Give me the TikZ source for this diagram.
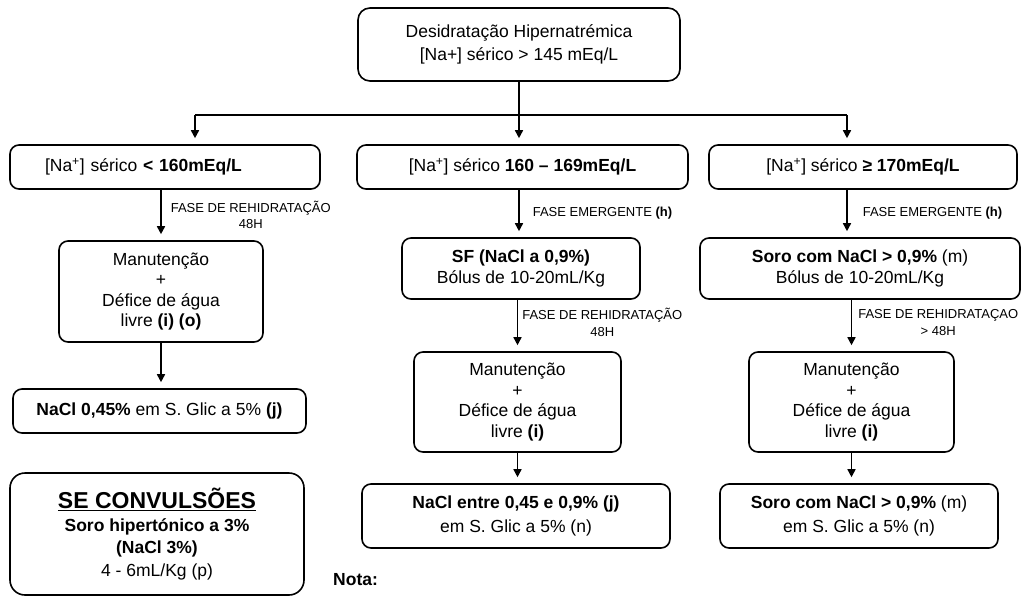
\documentclass[tikz,border=0pt]{standalone}
\usepackage{fontspec}
\setmainfont{Liberation Sans}
\usetikzlibrary{arrows.meta}

\begin{document}
\begin{tikzpicture}[x=1pt, y=-1pt, inner sep=0pt,
        box/.style={draw, line width=1.6pt, rounded corners=9pt, align=center, font=\fontsize{17.5}{20.5}\selectfont},
        arr/.style={line width=1.6pt, -{Triangle[length=8pt, width=8pt]}, shorten >=6pt},
        phase/.style={right, align=center, font=\fontsize{13}{16.5}\selectfont}]
        \useasboundingbox (0, 0) rectangle (1022, 597);
        \node[box, rounded corners=12pt, minimum width=322, minimum height=73] (hyper) at (519, 44.5) {Desidratação Hipernatrémica\\[2pt]{[Na+]} sérico > 145 mEq/L}; % diagnosis
        \node[box, minimum width=310, minimum height=44, text width=240, align=left] (lo1) at (165, 167) {[Na\textsuperscript{+}] sérico \textbf{< 160mEq/L}}; % low sodium
        \node[box, minimum width=331, minimum height=44] (mi1) at (522.5, 167) {[Na\textsuperscript{+}] sérico \textbf{160 – 169mEq/L}}; % medium sodium
        \node[box, minimum width=308, minimum height=44] (ri1) at (863, 167) {[Na\textsuperscript{+}] sérico \textbf{≥ 170mEq/L}}; % high sodium
        \node[box, minimum width=204, minimum height=101] (lo2) at (161, 291.5) {Manutenção\\+\\Défice de água\\livre \textbf{(i) (o)}}; % low maintenance
        \node[box, minimum width=238, minimum height=61] (mi2) at (521, 268.5) {\textbf{SF (NaCl a 0,9\%)}\\Bólus de 10-20mL/Kg}; % medium bolus
        \node[box, minimum width=320, minimum height=61] (ri2) at (860, 268.5) {\textbf{Soro com NaCl > 0,9\%} (m)\\Bólus de 10-20mL/Kg}; % high bolus
        \node[box, minimum width=293, minimum height=44] (lo3) at (159.5, 411) {\textbf{NaCl 0,45\%} em S. Glic a 5\% \textbf{(j)}}; % low fluid
        \node[box, minimum width=207, minimum height=100] (mi3) at (517.5, 402) {Manutenção\\+\\Défice de água\\livre \textbf{(i)}}; % medium maintenance
        \node[box, minimum width=205, minimum height=100] (ri3) at (851.5, 402) {Manutenção\\+\\Défice de água\\livre \textbf{(i)}}; % high maintenance
        \node[box, minimum width=308, minimum height=64] (mi4) at (516, 516) {\textbf{NaCl entre 0,45 e 0,9\% (j)}\\[3pt]em S. Glic a 5\% (n)}; % medium fluid
        \node[box, minimum width=278, minimum height=64] (ri4) at (859, 516) {\textbf{Soro com NaCl > 0,9\%} (m)\\[3pt]em S. Glic a 5\% (n)}; % high fluid
        \node[box, rounded corners=15pt, minimum width=294, minimum height=122] (conv) at (157, 534) {{\fontsize{23}{26}\selectfont\textbf{\underline{SE CONVULSÕES}}}\\[2pt]\textbf{Soro hipertónico a 3\%}\\[2pt]\textbf{(NaCl 3\%)}\\[2pt]4 - 6mL/Kg (p)}; % seizures
        \node[anchor=west, font=\fontsize{17.5}{21}\selectfont\bfseries] (nota) at (333, 580) {Nota:}; % note
        \coordinate (spL) at (195, 115); % left split
        \coordinate (spR) at (847, 115); % right split
        \draw[line width=1.6pt] (spL) -- (spR); % branch line
        \draw[arr] (hyper.south) -- (hyper.south |- mi1.north);
        \draw[arr] (spL) -- (spL |- lo1.north);
        \draw[arr] (spR) -- (spR |- ri1.north);
        \draw[arr] (lo2.north |- lo1.south) -- (lo2.north) node[phase, midway, xshift=9pt] {FASE DE REHIDRATAÇÃO\\48H};
        \draw[arr] (hyper.south |- mi1.south) -- (hyper.south |- mi2.north) node[phase, midway, xshift=13pt] {FASE EMERGENTE \textbf{(h)}};
        \draw[arr] (spR |- ri1.south) -- (spR |- ri2.north) node[phase, midway, xshift=15pt] {FASE EMERGENTE \textbf{(h)}};
        \draw[arr] (lo2.south) -- (lo2.south |- lo3.north);
        \draw[arr] (mi3.north |- mi2.south) -- (mi3.north) node[phase, midway, xshift=4pt, yshift=3pt] {FASE DE REHIDRATAÇÃO\\48H};
        \draw[arr] (ri3.north |- ri2.south) -- (ri3.north) node[phase, midway, xshift=6pt, yshift=3pt] {FASE DE REHIDRATAÇAO\\> 48H};
        \draw[arr] (mi3.south) -- (mi3.south |- mi4.north);
        \draw[arr] (ri3.south) -- (ri3.south |- ri4.north);
    \end{tikzpicture}
\end{document}
